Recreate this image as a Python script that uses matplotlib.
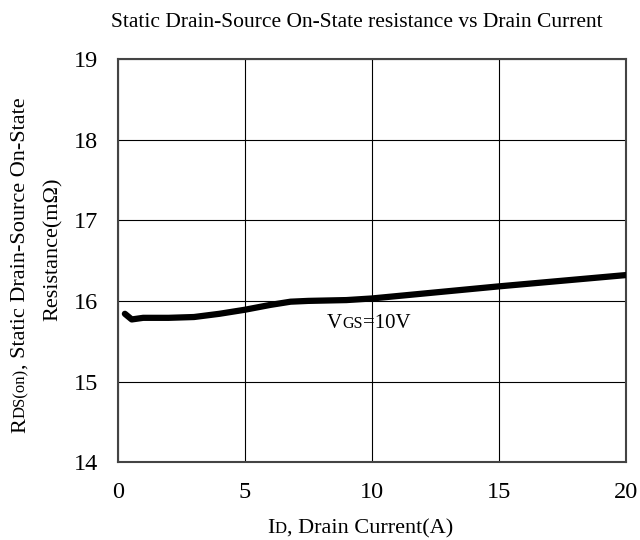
import matplotlib
matplotlib.use("Agg")
import matplotlib.pyplot as plt

# curve
drain_current = [0.28, 0.55, 1.0, 2.0, 3.0, 4.0, 5.0, 6.0, 6.8, 7.5, 9.0, 10.0, 15.0, 20.0]
rds_on = [15.84, 15.77, 15.79, 15.79, 15.80, 15.84, 15.89, 15.95, 15.99, 16.00, 16.01, 16.03, 16.18, 16.32]
x_ticks = [0, 5, 10, 15, 20]
y_ticks = [14, 15, 16, 17, 18, 19]

FONT = "Liberation Serif"
BIG = 16
SMALL = 12

plt.rcParams['font.family'] = [FONT, 'DejaVu Serif']

fig = plt.figure(figsize=(6.4, 5.4), dpi=100)
ax = fig.add_axes([0.184, 0.144, 0.794, 0.747])

ax.plot(drain_current, rds_on, color='black', lw=4.5, solid_capstyle='round', solid_joinstyle='round', zorder=3)

ax.set_xlim(0, 20)
ax.set_ylim(14, 19)
ax.set_xticks(x_ticks)
ax.set_yticks(y_ticks)
ax.tick_params(length=0, labelsize=17.5)
ax.tick_params(axis='x', pad=14)
ax.tick_params(axis='y', pad=14)
ax.grid(True, color='black', lw=0.8)
for s in ax.spines.values():
    s.set_color('#444444')
    s.set_linewidth(1.5)

fig.text(0.557, 0.958, "Static Drain-Source On-State resistance vs Drain Current",
         ha='center', va='center', fontsize=15.5)

renderer = fig.canvas.get_renderer()


def run_text(x, y, pieces, rotation=0):
    # draw text pieces one after another, each with its own size
    for s, size in pieces:
        t = fig.text(x, y, s, fontsize=size, rotation=rotation, rotation_mode='anchor',
                     ha='left', va='baseline', transform=None)
        bb = t.get_window_extent(renderer)
        if rotation == 0:
            x += bb.width
        else:
            y += bb.height


def width_of(pieces, rotation=0):
    total = 0
    for s, size in pieces:
        t = fig.text(0, 0, s, fontsize=size, rotation=rotation)
        bb = t.get_window_extent(renderer)
        total += bb.width if rotation == 0 else bb.height
        t.remove()
    return total


# x label
xl = [("I", BIG), ("D", SMALL), (", Drain Current(A)", BIG)]
w = width_of(xl)
run_text(360 - w / 2, 540 - 533, xl)

# y label, two lines
yl1 = [("R", BIG), ("DS(on)", SMALL), (", Static Drain-Source On-State", BIG)]
h1 = width_of(yl1, 90)
run_text(25, 540 - 265 - h1 / 2, yl1, 90)
yl2 = [("Resistance(m\u03a9)", BIG)]
h2 = width_of(yl2, 90)
run_text(58, 540 - 249 - h2 / 2, yl2, 90)

# annotation inside the plot
ann = [("V", 15), ("GS", 11.5), ("=10V", 15)]
run_text(327, 540 - 328, ann)

fig.savefig("out.png", dpi=100)
